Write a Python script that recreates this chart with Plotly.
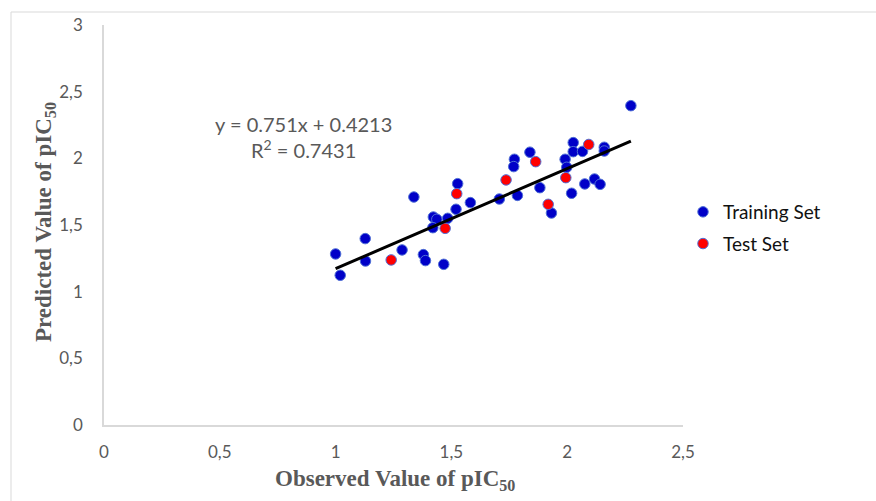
import plotly.graph_objects as go

# Training set (observed, predicted)
train_obs = [2.275, 2.026, 2.026, 2.066, 2.160, 2.160, 1.991, 1.998, 1.839, 1.772,
             1.769, 1.882, 1.785, 1.707, 1.932, 2.019, 2.076, 2.118, 2.142, 1.527,
             1.582, 1.520, 1.484, 1.422, 1.437, 1.420, 1.338, 1.128, 1.000, 1.129,
             1.020, 1.287, 1.379, 1.388, 1.467]
train_pred = [2.395, 2.118, 2.050, 2.052, 2.083, 2.055, 1.993, 1.933, 2.046, 1.993,
              1.938, 1.780, 1.722, 1.695, 1.590, 1.738, 1.808, 1.845, 1.805, 1.810,
              1.668, 1.618, 1.550, 1.560, 1.543, 1.480, 1.710, 1.398, 1.283, 1.230,
              1.123, 1.313, 1.278, 1.233, 1.205]

# Test set (observed, predicted)
test_obs = [2.093, 1.864, 1.736, 1.994, 1.918, 1.523, 1.473, 1.240]
test_pred = [2.104, 1.975, 1.838, 1.855, 1.655, 1.735, 1.475, 1.238]

# Trendline
slope = 0.751
intercept = 0.4213
r2 = 0.7431

x_ticks = [0, 0.5, 1, 1.5, 2, 2.5]
y_ticks = [0, 0.5, 1, 1.5, 2, 2.5, 3]

all_x = train_obs + test_obs
x_line = [min(all_x), max(all_x)]
y_line = [slope * v + intercept for v in x_line]

GREY = "#595959"
AXIS = "#d9d9d9"
FONT = "Lato, 'Open Sans', sans-serif"
SERIF = "'Liberation Serif', 'Times New Roman', serif"

W, H = 876, 501
L, R, T, B = 104, 193, 25, 76
PW, PH = W - L - R, H - T - B


def px(xp):
    return (xp - L) / PW


def py(yp):
    return (H - B - yp) / PH


fig = go.Figure()
fig.add_trace(go.Scatter(
    x=train_obs, y=train_pred, mode="markers", name="Training Set",
    legendgroup="a",
    marker=dict(size=10.5, color="#0000C8", line=dict(color="#4F6FD6", width=1)),
))
fig.add_trace(go.Scatter(
    x=test_obs, y=test_pred, mode="markers", name="Test Set",
    legendgroup="b",
    marker=dict(size=10.5, color="#FF0000", line=dict(color="#4F6FD6", width=1)),
))
fig.add_trace(go.Scatter(
    x=x_line, y=y_line, mode="lines", showlegend=False,
    line=dict(color="black", width=3), hoverinfo="skip",
))

fig.update_layout(
    width=W, height=H,
    margin=dict(l=L, r=R, t=T, b=B),
    paper_bgcolor="white", plot_bgcolor="white",
    separators=", ",
    showlegend=True,
    legend=dict(x=px(683), y=py(193), xanchor="left", yanchor="top",
                font=dict(family=FONT, size=19, color="#111111"),
                tracegroupgap=4, itemwidth=30, bgcolor="rgba(0,0,0,0)"),
    xaxis=dict(range=[0, 2.5], tickvals=x_ticks, showgrid=False, zeroline=False,
               showline=True, linecolor=AXIS, linewidth=1.5,
               ticks="", ticklabelstandoff=11,
               tickfont=dict(family=FONT, size=17, color=GREY)),
    yaxis=dict(range=[0, 3], tickvals=y_ticks, showgrid=False, zeroline=False,
               showline=True, linecolor=AXIS, linewidth=1.5,
               ticks="", ticklabelstandoff=16,
               tickfont=dict(family=FONT, size=17, color=GREY)),
    annotations=[
        dict(text="<b>Observed Value of pIC<sub>50</sub></b>",
             x=px(395), y=py(480), xref="paper", yref="paper",
             xanchor="center", yanchor="middle",
             showarrow=False, font=dict(family=SERIF, size=23, color=GREY)),
        dict(text="<b>Predicted Value of pIC<sub>50</sub></b>", textangle=-90,
             x=px(45), y=py(222), xref="paper", yref="paper",
             xanchor="center", yanchor="middle",
             showarrow=False, font=dict(family=SERIF, size=23, color=GREY)),
        dict(text=f"y = {slope}x + {intercept}<br>R<sup>2</sup> = {r2}",
             x=px(303), y=py(137), xref="paper", yref="paper",
             xanchor="center", yanchor="middle",
             showarrow=False, align="center",
             font=dict(family=FONT, size=20, color=GREY)),
    ],
    shapes=[
        dict(type="line", xref="paper", yref="paper",
             x0=px(11), x1=px(880), y0=py(12), y1=py(12),
             line=dict(color=AXIS, width=1)),
        dict(type="line", xref="paper", yref="paper",
             x0=px(11), x1=px(11), y0=py(12), y1=py(510),
             line=dict(color=AXIS, width=1)),
    ],
)

fig.write_html("out.html", config={"displayModeBar": False},
               post_script="document.body.style.margin='0';")
